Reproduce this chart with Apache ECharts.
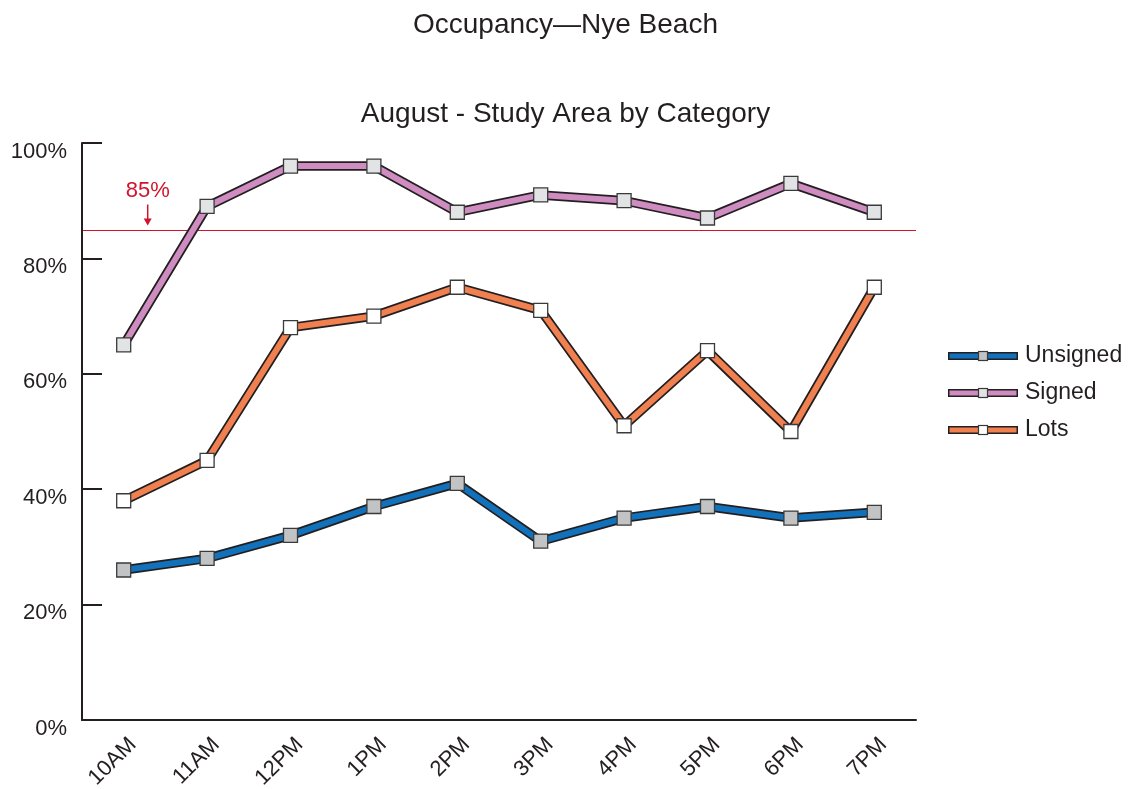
<!DOCTYPE html>
<html>
<head>
<meta charset="utf-8">
<script src="https://cdn.jsdelivr.net/npm/echarts@6/dist/echarts.min.js"></script>
<style>
  html, body { margin: 0; padding: 0; background: #ffffff; }
  #chart { width: 1131px; height: 789px; }
</style>
</head>
<body>
<div id="chart"></div>
<script>
// Hourly occupancy by parking category (percent)
const hours = ['10AM', '11AM', '12PM', '1PM', '2PM', '3PM', '4PM', '5PM', '6PM', '7PM'];
const unsigned = [26, 28, 32, 37, 41, 31, 35, 37, 35, 36];
const signed = [65, 89, 96, 96, 88, 91, 90, 87, 93, 88];
const lots = [38, 45, 68, 70, 75, 71, 51, 64, 50, 75];
const yTicks = [0, 20, 40, 60, 80, 100];
const target = 85;

const FONT = '"Liberation Sans", Arial, Helvetica, sans-serif';
const INK = '#231f20';
const RED = '#d0142c';
const MARKER_EDGE = '#3a3a3a';

// Each category: line colour and marker fill
const styles = {
  Unsigned: { line: '#1271bb', marker: '#c2c3c5' },
  Signed:   { line: '#cf8cc0', marker: '#e2e3e5' },
  Lots:     { line: '#f0804f', marker: '#ffffff' }
};
const seriesData = { Unsigned: unsigned, Signed: signed, Lots: lots };

// Legend swatch: cased line with a square marker in the middle
function swatch(lineColor, markerColor) {
  const w = 70, h = 12;
  const c = document.createElement('canvas');
  c.width = w; c.height = h;
  const g = c.getContext('2d');
  g.fillStyle = INK;
  g.fillRect(0, 2, w, 8);
  g.fillStyle = lineColor;
  g.fillRect(1.5, 3.5, w - 3, 5);
  g.fillStyle = markerColor;
  g.fillRect(w / 2 - 5, 1, 10, 10);
  g.strokeStyle = MARKER_EDGE;
  g.lineWidth = 1.2;
  g.strokeRect(w / 2 - 5 + 0.5, 1.5, 9, 9);
  return 'image://' + c.toDataURL();
}

const series = [];
// dark casing drawn beneath each coloured line
Object.keys(seriesData).forEach(function (name) {
  series.push({
    name: name + ' casing',
    type: 'line',
    data: seriesData[name],
    symbol: 'none',
    silent: true,
    z: 2,
    lineStyle: { color: INK, width: 9.5, join: 'miter' },
    emphasis: { disabled: true }
  });
});
Object.keys(seriesData).forEach(function (name) {
  series.push({
    name: name,
    type: 'line',
    data: seriesData[name],
    symbol: 'rect',
    symbolSize: 14,
    z: 3,
    color: styles[name].line,
    lineStyle: { color: styles[name].line, width: 6, join: 'miter' },
    itemStyle: { color: styles[name].marker, borderColor: MARKER_EDGE, borderWidth: 1.3 },
    emphasis: { disabled: true }
  });
});

const chart = echarts.init(document.getElementById('chart'), null, { renderer: 'canvas' });

chart.setOption({
  animation: false,
  backgroundColor: '#ffffff',
  title: [
    { text: 'Occupancy\u2014Nye Beach', left: 'center', top: 6,
      textStyle: { fontFamily: FONT, fontSize: 28, fontWeight: 'normal', color: INK } },
    { text: 'August - Study Area by Category', left: 'center', top: 95,
      textStyle: { fontFamily: FONT, fontSize: 28, fontWeight: 'normal', color: INK } }
  ],
  legend: {
    data: ['Unsigned', 'Signed', 'Lots'].map(function (n) {
      return { name: n, icon: swatch(styles[n].line, styles[n].marker) };
    }),
    orient: 'vertical',
    left: 948,
    top: 343,
    padding: 0,
    itemWidth: 70,
    itemHeight: 12,
    itemGap: 11,
    textStyle: { fontFamily: FONT, fontSize: 23, lineHeight: 26, color: INK, padding: [0, 0, 0, 2] },
    selectedMode: false
  },
  grid: { left: 82, right: 215, top: 143, bottom: 69, containLabel: false, outerBoundsMode: 'none' },
  xAxis: {
    type: 'category',
    data: hours,
    boundaryGap: true,
    axisLine: { lineStyle: { color: INK, width: 2 } },
    axisTick: { inside: true, length: 15, lineStyle: { color: INK, width: 2 } },
    axisLabel: { rotate: 45, margin: 12, align: 'right', verticalAlign: 'top', lineHeight: 26,
      fontFamily: FONT, fontSize: 22, color: INK },
    splitLine: { show: false }
  },
  yAxis: {
    type: 'value',
    min: yTicks[0],
    max: yTicks[yTicks.length - 1],
    interval: yTicks[1] - yTicks[0],
    axisLine: { show: true, lineStyle: { color: INK, width: 2 } },
    axisTick: { show: true, inside: true, length: 20, lineStyle: { color: INK, width: 2 } },
    axisLabel: { margin: 15, verticalAlign: 'top', lineHeight: 17,
      fontFamily: FONT, fontSize: 22, color: INK,
      formatter: function (v) { return v + '%'; } },
    splitLine: { show: false }
  },
  series: series
});

// Target line across the plot with an "85%" callout and downward arrow
const grid = chart.getModel().getComponent('grid', 0).coordinateSystem.getRect();
const p = chart.convertToPixel({ gridIndex: 0 }, [0, target]);
const ly = Math.round(p[1]) + 0.5;
const cx = p[0] + 24;
chart.setOption({
  graphic: [
    { type: 'line', z: 1, silent: true,
      shape: { x1: grid.x + 1, y1: ly, x2: grid.x + grid.width, y2: ly },
      style: { stroke: RED, lineWidth: 1.2 } },
    { type: 'text', x: cx, y: ly - 40, z: 10, silent: true,
      style: { text: target + '%', fontFamily: FONT, fontSize: 22, fill: RED,
        align: 'center', verticalAlign: 'middle' } },
    { type: 'line', z: 10, silent: true,
      shape: { x1: cx, y1: ly - 26, x2: cx, y2: ly - 10 },
      style: { stroke: RED, lineWidth: 1.5 } },
    { type: 'polygon', z: 10, silent: true,
      shape: { points: [[cx - 4, ly - 12], [cx + 4, ly - 12], [cx, ly - 5]] },
      style: { fill: RED } }
  ]
});
</script>
</body>
</html>
